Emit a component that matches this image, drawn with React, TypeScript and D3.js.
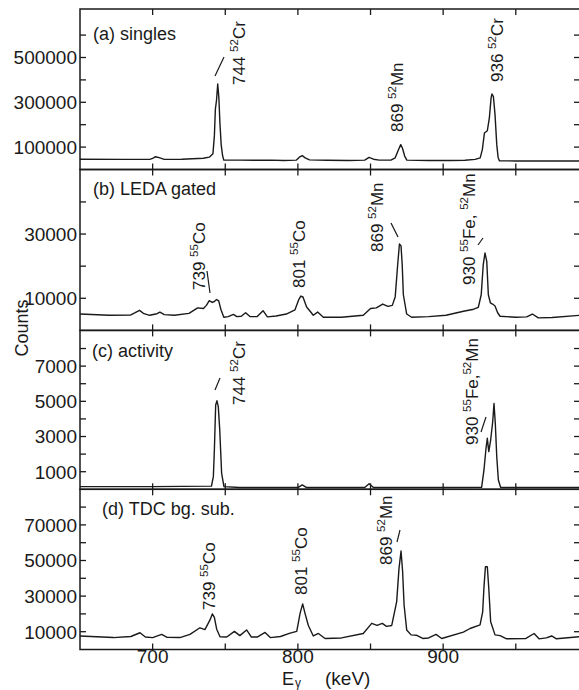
import React from "react";
import * as d3 from "d3";

// ---------- data (energy keV, counts) ----------
const singles: [number, number][] = [
  [650, 46000], [680, 45000], [698, 45000], [700, 50000], [702, 57000], [705, 52000], [708, 45000],
  [720, 46000], [735, 50000], [739, 55000], [741.5, 70000], [742.5, 150000], [743.2, 270000],
  [744, 310000], [744.8, 382000], [745.6, 320000], [746.3, 210000], [747.2, 110000], [748.2, 60000],
  [749, 42000], [760, 42000], [770, 41000], [782, 42000], [790, 40000], [799, 42000], [801, 55000],
  [803, 62000], [805, 52000], [808, 43000], [820, 41000], [835, 40000], [846, 42000], [849, 54000],
  [852, 46000], [856, 42000], [864, 42000], [867, 52000], [869, 85000], [870.8, 111000], [872, 95000],
  [873.5, 60000], [875, 42000], [890, 40000], [905, 40000], [915, 41000], [922, 45000], [925.5, 52000],
  [927, 90000], [928.4, 163000], [930.4, 173000], [931.8, 230000], [933, 320000], [933.6, 337000],
  [934.6, 325000], [935.7, 245000], [936.9, 111000], [937.8, 55000], [938.7, 39000], [950, 38000],
  [970, 38000], [994, 38000],
];

const ledaGated: [number, number][] = [
  [650, 5100], [670, 4700], [685, 4800], [688, 5500], [691, 6250], [694, 5200], [698, 4700],
  [703, 5200], [705, 5700], [708, 4900], [715, 4700], [725, 5300], [731, 7000], [735, 6800],
  [737, 7800], [739, 9250], [741, 8700], [742.5, 9000], [744, 9600], [745.5, 9200], [747, 6500],
  [749, 4100], [752, 4300], [755.6, 5000], [758, 4300], [761, 4400], [764, 5500], [767, 4300],
  [772, 4300], [776, 6150], [779, 4200], [785, 4500], [792, 5100], [798, 6400], [800.5, 9500],
  [802, 10700], [803.5, 10400], [806, 7300], [808, 6200], [810.6, 4700], [813.6, 5700], [817.5, 4100],
  [830, 4100], [845, 4700], [850, 6800], [854, 7000], [858.4, 8200], [862, 7500], [865, 7800],
  [867, 10500], [868.7, 20500], [869.9, 26900], [871, 26300], [871.8, 20500], [872.6, 11100],
  [874.9, 5100], [878.3, 4100], [890, 4300], [902, 4700], [914, 5950], [921, 6600], [924.2, 7200],
  [926.2, 11100], [927.6, 20500], [928.8, 24100], [930, 21600], [931.1, 11100], [932.5, 8600],
  [934, 8200], [935.7, 7600], [937.5, 5500], [939.2, 4400], [950, 4100], [957.5, 4200], [961.4, 5100],
  [965.5, 3900], [975, 4000], [994, 4700],
];

const activity: [number, number][] = [
  [650, 150], [700, 150], [740.5, 180], [741.8, 720], [742.5, 2230], [743.4, 4790], [744.3, 5030],
  [745.2, 4700], [746.2, 3370], [747.5, 900], [749.1, 150], [760, 100], [800, 100], [803, 250],
  [806, 100], [846, 100], [849, 320], [852, 100], [926.5, 120], [928.1, 1100], [929.5, 2330],
  [930.4, 2900], [931.4, 2140], [932.7, 2800], [934.1, 3840], [935, 4880], [935.9, 3730],
  [936.9, 1850], [938, 530], [939.6, 100], [994, 100],
];

const tdcSub: [number, number][] = [
  [650, 7600], [673, 6700], [685, 7300], [691.3, 9400], [695, 7000], [700, 6700], [706.2, 8500],
  [710, 6800], [718.8, 6700], [725.7, 8500], [732.6, 12200], [736, 11200], [739.5, 16600],
  [741.1, 20000], [742.5, 18000], [744.1, 11400], [746.4, 7200], [751, 7000], [756.3, 10200],
  [760, 7800], [764.7, 11000], [768, 7000], [772, 7000], [777.4, 9600], [781, 6700], [788, 7300],
  [794.6, 9200], [799.2, 10200], [801.5, 20300], [803.3, 25600], [804.9, 20300], [807.2, 13500],
  [810.6, 7600], [814.1, 9000], [818.7, 6200], [830, 6500], [845, 9000], [850.8, 14700],
  [854.5, 13500], [858.1, 14700], [861, 13000], [864.6, 13500], [868, 26900], [869.6, 45600],
  [871, 55300], [872.1, 43700], [873.1, 25000], [874.9, 11000], [877.9, 8200], [881.8, 8000],
  [886, 6200], [890, 6500], [895.1, 8500], [899, 6200], [913.9, 9800], [918.5, 11800], [925.4, 13800],
  [927.2, 21200], [928.1, 35300], [929.1, 46500], [930.4, 46500], [931.4, 34400], [932.7, 15600],
  [935.7, 8200], [939.2, 7800], [943.7, 6000], [957, 6200], [962.6, 9000], [966, 6000], [971, 6500],
  [974.7, 7600], [978, 6000], [994, 7200],
];

const spectra = [singles, ledaGated, activity, tdcSub];
const panelTitles = ["(a) singles", "(b) LEDA gated", "(c) activity", "(d) TDC bg. sub."];
const yMaxima = [716500, 50100, 9030, 90000];
const yTickValues = [
  [100000, 200000, 300000, 400000, 500000, 600000],
  [10000, 20000, 30000, 40000],
  [1000, 2000, 3000, 4000, 5000, 6000, 7000, 8000],
  [10000, 20000, 30000, 40000, 50000, 60000, 70000, 80000],
];
const yTickLabels = [
  [100000, 300000, 500000],
  [10000, 30000],
  [1000, 3000, 5000, 7000],
  [10000, 30000, 50000, 70000],
];
const xDomain = [650, 994.2];
const xTickValues = [700, 750, 800, 850, 900, 950];
const xTickLabels = [700, 800, 900];

// peak annotations ("^" marks a mass-number superscript)
const annotationTexts = [
  ["744 ^52Cr", "869 ^52Mn", "936 ^52Cr"],
  ["739 ^55Co", "801 ^55Co", "869 ^52Mn", "930 ^55Fe, ^52Mn"],
  ["744 ^52Cr", "930 ^55Fe,^52Mn"],
  ["739 ^55Co", "801 ^55Co", "869 ^52Mn"],
];

// ---------- layout ----------
const W = 579;
const H = 690;
const LEFT = 80;
const RIGHT = 580;
const panelEdges = [9, 169.5, 330.4, 489.3, 649.5];
const titlePos = [
  [93, 40],
  [93, 195],
  [92, 356.5],
  [102, 515],
];
type Lay = { x: number; y: number; slash?: number[] };
const annotationLayout: Lay[][] = [
  [
    { x: 245, y: 85, slash: [215, 76, 224, 57] },
    { x: 403, y: 132 },
    { x: 503, y: 82 },
  ],
  [
    { x: 205, y: 290, slash: [207, 271, 210, 293] },
    { x: 305, y: 288 },
    { x: 383, y: 252, slash: [391, 223, 398, 237] },
    { x: 475, y: 285, slash: [478, 245, 483, 238] },
  ],
  [
    { x: 245, y: 405, slash: [215, 390, 220, 378] },
    { x: 478, y: 445, slash: [481, 432, 486, 417] },
  ],
  [
    { x: 215, y: 610 },
    { x: 307, y: 595 },
    { x: 392, y: 565, slash: [397, 542, 400, 530] },
  ],
];

const FONT = "'Liberation Sans', Arial, sans-serif";
const INK = "#1a1a1a";
const TICK = 6;

function VLabel({ x, y, text }: { x: number; y: number; text: string }) {
  const parts = text.split(/\^(\d+)/);
  const nodes: React.ReactNode[] = [];
  let raised = false;
  parts.forEach((p, i) => {
    if (p === "") return;
    const sup = i % 2 === 1;
    let dy = 0;
    if (sup && !raised) { dy = -7; raised = true; }
    else if (!sup && raised) { dy = 7; raised = false; }
    nodes.push(
      <tspan key={i} fontSize={sup ? 11.5 : 17} dy={dy}>{p}</tspan>
    );
  });
  return (
    <text
      transform={`translate(${x},${y}) rotate(-90)`}
      fontFamily={FONT}
      fill={INK}
      style={{ whiteSpace: "pre" }}
    >
      {nodes}
    </text>
  );
}

export default function App() {
  const x = d3.scaleLinear().domain(xDomain).range([LEFT, RIGHT]);

  return (
    <svg
      width={W}
      height={H}
      viewBox={`0 0 ${W} ${H}`}
      style={{ position: "absolute", left: 0, top: 0, background: "#fff" }}
    >
      <rect x={0} y={0} width={W} height={H} fill="#fff" />
      {spectra.map((data, i) => {
        const top = panelEdges[i];
        const bottom = panelEdges[i + 1];
        const y = d3.scaleLinear().domain([0, yMaxima[i]]).range([bottom, top]);
        const line = d3
          .line<[number, number]>()
          .x((d) => x(d[0]))
          .y((d) => y(d[1]));
        return (
          <g key={i}>
            <path d={line(data) || ""} fill="none" stroke={INK} strokeWidth={1.4} strokeLinejoin="round" />
            <rect x={LEFT} y={top} width={RIGHT - LEFT} height={bottom - top} fill="none" stroke={INK} strokeWidth={1.5} />
            {xTickValues.map((t) => (
              <g key={t}>
                <line x1={x(t)} x2={x(t)} y1={top} y2={top + TICK} stroke={INK} strokeWidth={1.3} />
                <line x1={x(t)} x2={x(t)} y1={bottom} y2={bottom - TICK} stroke={INK} strokeWidth={1.3} />
              </g>
            ))}
            {yTickValues[i].map((t) => (
              <g key={t}>
                <line x1={LEFT} x2={LEFT + TICK} y1={y(t)} y2={y(t)} stroke={INK} strokeWidth={1.3} />
                <line x1={RIGHT - TICK} x2={RIGHT} y1={y(t)} y2={y(t)} stroke={INK} strokeWidth={1.3} />
              </g>
            ))}
            {yTickLabels[i].map((t) => (
              <text key={t} x={LEFT - 3} y={y(t)} dy="0.36em" textAnchor="end" fontSize={19} fontFamily={FONT} fill={INK}>
                {t}
              </text>
            ))}
            <text x={titlePos[i][0]} y={titlePos[i][1]} fontSize={18} fontFamily={FONT} fill={INK} style={{ whiteSpace: "pre" }}>
              {panelTitles[i]}
            </text>
            {annotationTexts[i].map((txt, j) => {
              const lay = annotationLayout[i][j];
              return (
                <g key={j}>
                  <VLabel x={lay.x} y={lay.y} text={txt} />
                  {lay.slash && (
                    <line x1={lay.slash[0]} y1={lay.slash[1]} x2={lay.slash[2]} y2={lay.slash[3]} stroke={INK} strokeWidth={1.2} />
                  )}
                </g>
              );
            })}
          </g>
        );
      })}
      {xTickLabels.map((t) => (
        <text key={t} x={x(t)} y={663} textAnchor="middle" fontSize={19} fontFamily={FONT} fill={INK}>
          {t}
        </text>
      ))}
      <text x={282} y={685} fontSize={18} fontFamily={FONT} fill={INK}>E</text>
      <text x={295} y={686.5} fontSize={12} fontFamily={FONT} fill={INK}>γ</text>
      <text x={325} y={685} fontSize={19} fontFamily={FONT} fill={INK}>(keV)</text>
      <text transform="translate(28,328) rotate(-90)" textAnchor="middle" fontSize={18} fontFamily={FONT} fill={INK}>
        Counts
      </text>
    </svg>
  );
}
